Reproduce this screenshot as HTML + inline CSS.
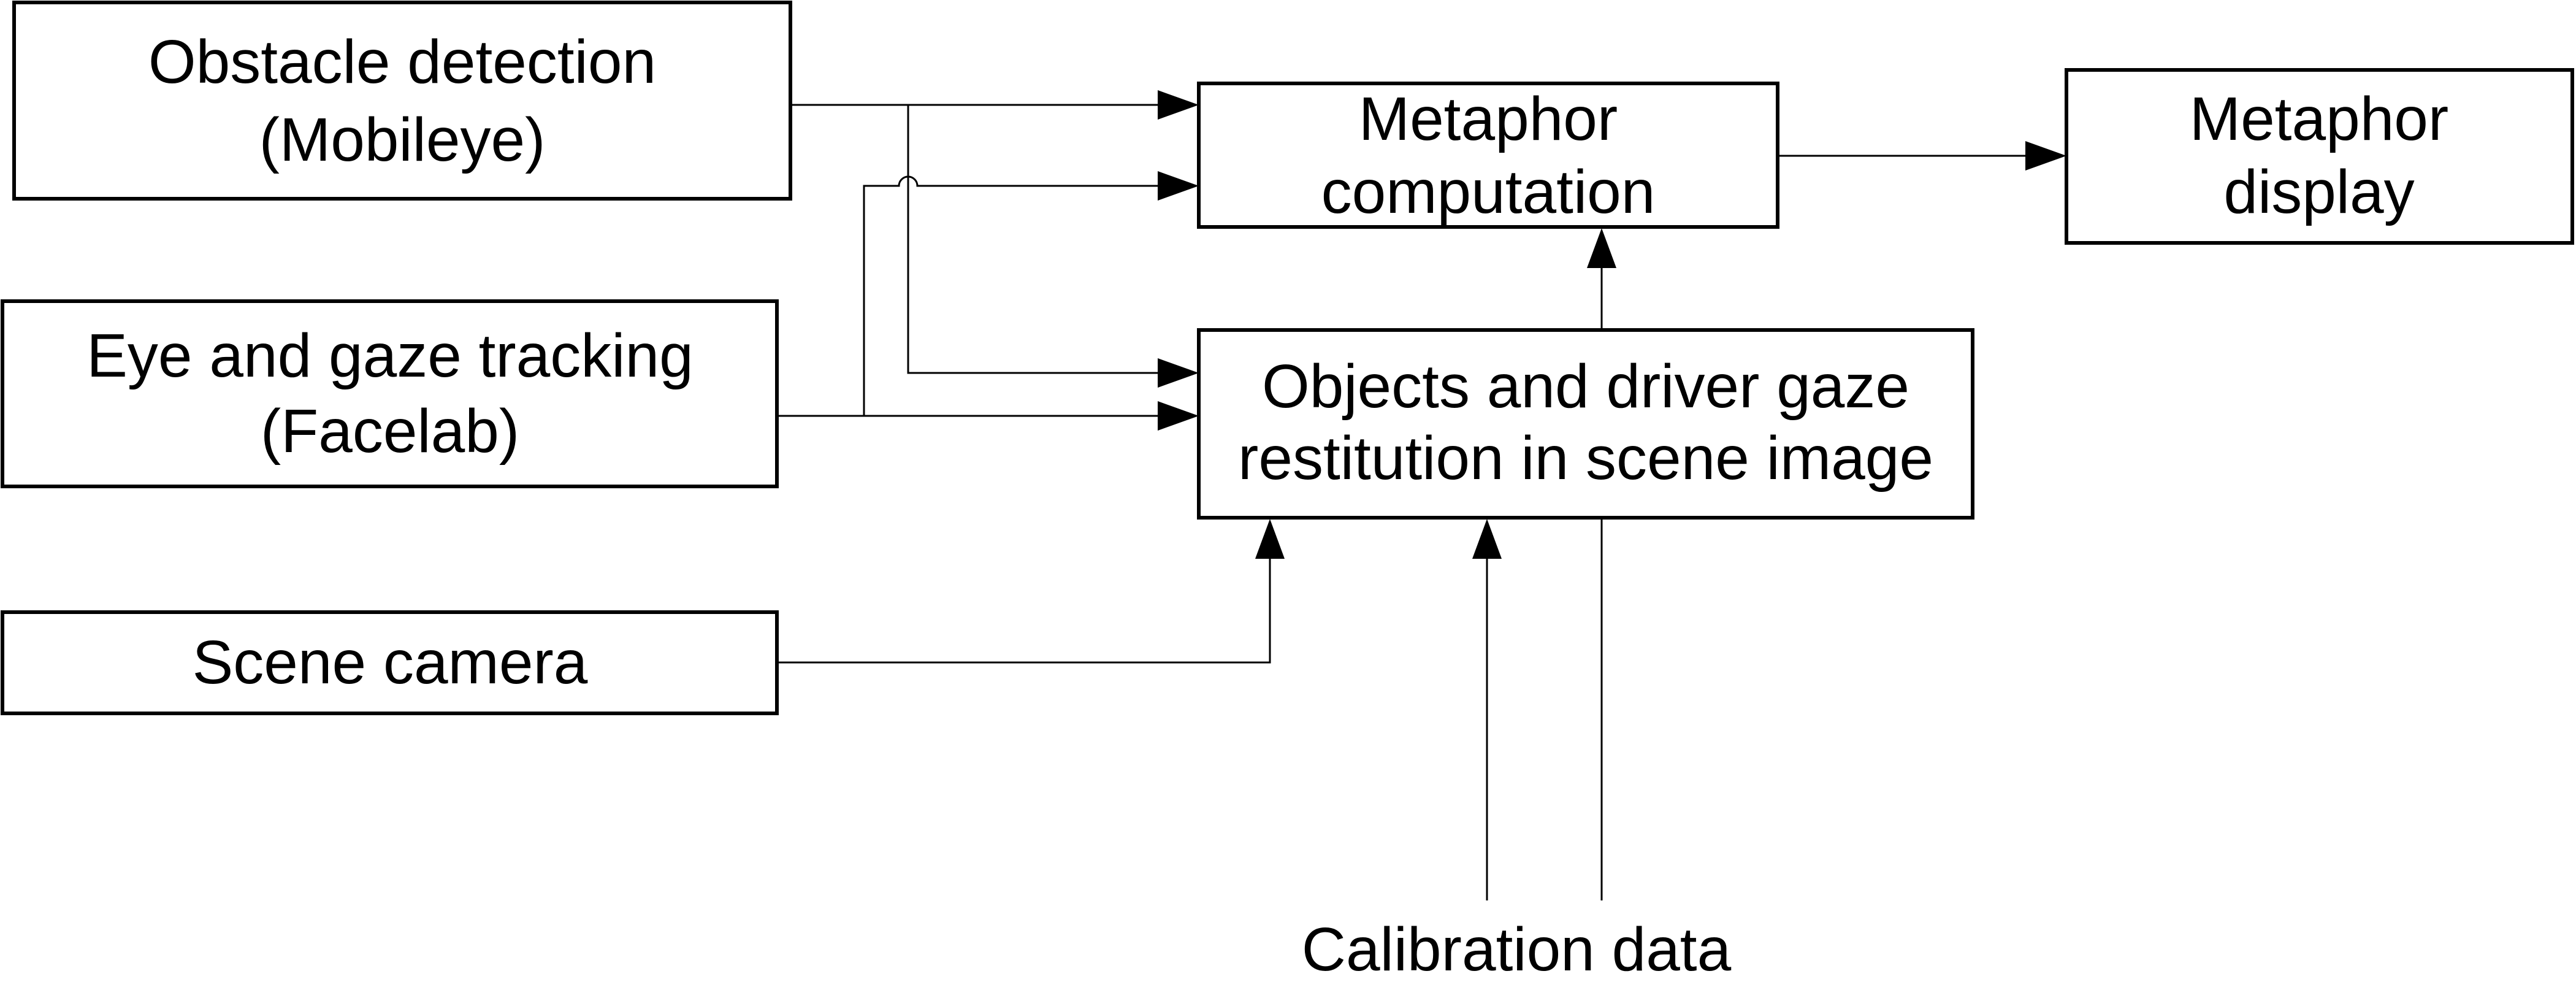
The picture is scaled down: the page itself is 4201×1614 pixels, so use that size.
<!DOCTYPE html>
<html><head><style>
html,body{margin:0;padding:0;background:#fff;}
svg{display:block;}
text{font-family:"Liberation Sans",Arial,sans-serif;font-size:100px;fill:#000;text-anchor:middle;}
</style></head><body>
<svg width="4201" height="1614" viewBox="0 0 4201 1614" xmlns="http://www.w3.org/2000/svg">
<g fill="none" stroke="#000" stroke-width="6">
<rect x="23" y="4" width="1266" height="320"/>
<rect x="4" y="491" width="1263" height="302"/>
<rect x="4" y="998" width="1263" height="165"/>
<rect x="1955" y="136" width="944" height="234"/>
<rect x="3370" y="114" width="825" height="282"/>
<rect x="1955" y="538" width="1262" height="306"/>
</g>
<g fill="none" stroke="#000" stroke-width="3">
<path d="M1289 171 H1890"/>
<path d="M1481 171 V608 H1890"/>
<path d="M1267 678 H1890"/>
<path d="M1409 678 V303 H1466 A15 15 0 0 1 1496 303 H1890"/>
<path d="M2899 254 H3305"/>
<path d="M2612 538 V435"/>
<path d="M1267 1080 H2071 V910"/>
<path d="M2425 1468 V910"/>
<path d="M2612 844 V1468"/>
</g>
<g fill="#000">
<polygon points="1955,171 1888,147 1888,195"/>
<polygon points="1955,303 1888,279 1888,327"/>
<polygon points="1955,608 1888,584 1888,632"/>
<polygon points="1955,678 1888,654 1888,702"/>
<polygon points="3370,254 3303,230 3303,278"/>
<polygon points="2612,372 2588,437 2636,437"/>
<polygon points="2071,846 2047,911 2095,911"/>
<polygon points="2425,846 2401,911 2449,911"/>
</g>
<text x="656" y="135">Obstacle detection</text>
<text x="656" y="262">(Mobileye)</text>
<text x="636" y="614">Eye and gaze tracking</text>
<text x="636" y="737">(Facelab)</text>
<text x="636" y="1114">Scene camera</text>
<text x="2427" y="228">Metaphor</text>
<text x="2427" y="347">computation</text>
<text x="3782" y="228">Metaphor</text>
<text x="3782" y="347">display</text>
<text x="2586" y="664">Objects and driver gaze</text>
<text x="2586" y="781">restitution in scene image</text>
<text x="2473" y="1582">Calibration data</text>
</svg>
</body></html>
